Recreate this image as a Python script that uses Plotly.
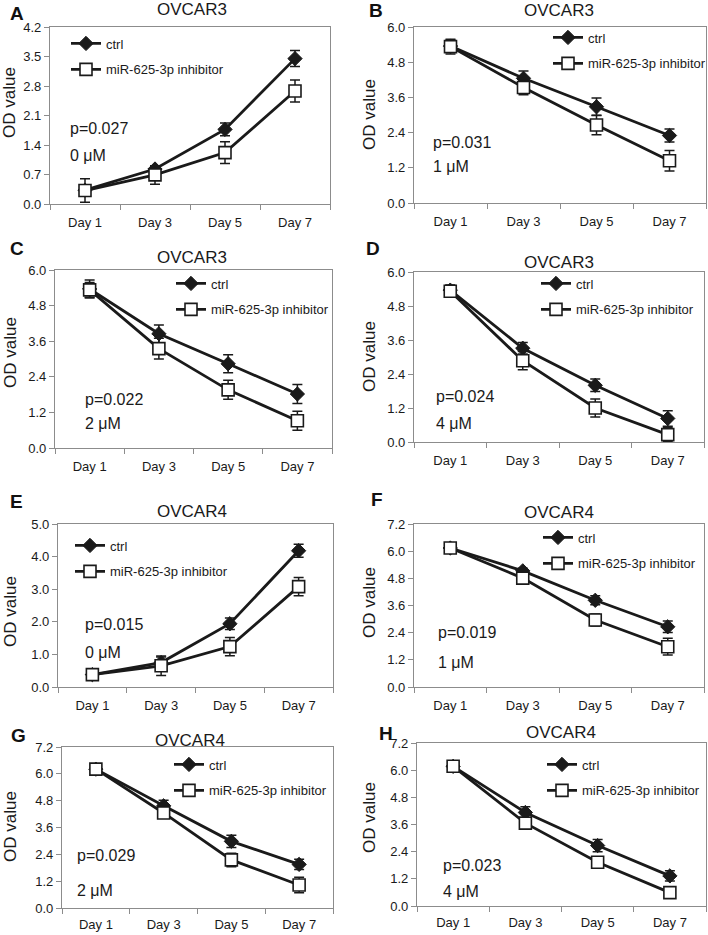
import plotly.graph_objects as go

W, H = 708, 935

# ---------------- data ----------------
days = ["Day 1", "Day 3", "Day 5", "Day 7"]
panel_letters = ["A", "B", "C", "D", "E", "F", "G", "H"]
cell_lines = ["OVCAR3", "OVCAR3", "OVCAR3", "OVCAR3", "OVCAR4", "OVCAR4", "OVCAR4", "OVCAR4"]
p_values = ["p=0.027", "p=0.031", "p=0.022", "p=0.024", "p=0.015", "p=0.019", "p=0.029", "p=0.023"]
doses = ["0 μM", "1 μM", "2 μM", "4 μM", "0 μM", "1 μM", "2 μM", "4 μM"]
y_max = [4.2, 6.0, 6.0, 6.0, 5.0, 7.2, 7.2, 7.2]
y_step = [0.7, 1.2, 1.2, 1.2, 1.0, 1.2, 1.2, 1.2]

ctrl_A = [0.33, 0.83, 1.77, 3.45]
ctrl_err_A = [0.08, 0.06, 0.15, 0.19]
inh_A = [0.32, 0.69, 1.22, 2.68]
inh_err_A = [0.28, 0.22, 0.26, 0.26]

ctrl_B = [5.35, 4.25, 3.28, 2.30]
ctrl_err_B = [0.20, 0.25, 0.30, 0.22]
inh_B = [5.33, 3.94, 2.66, 1.44]
inh_err_B = [0.25, 0.25, 0.33, 0.35]

ctrl_C = [5.36, 3.85, 2.84, 1.82]
ctrl_err_C = [0.30, 0.30, 0.30, 0.32]
inh_C = [5.33, 3.35, 1.96, 0.92]
inh_err_C = [0.25, 0.35, 0.32, 0.32]

ctrl_D = [5.36, 3.31, 2.00, 0.83]
ctrl_err_D = [0.18, 0.20, 0.22, 0.27]
inh_D = [5.32, 2.87, 1.20, 0.26]
inh_err_D = [0.20, 0.32, 0.32, 0.25]

ctrl_E = [0.38, 0.75, 1.94, 4.18]
ctrl_err_E = [0.10, 0.17, 0.18, 0.20]
inh_E = [0.38, 0.65, 1.24, 3.08]
inh_err_E = [0.17, 0.30, 0.28, 0.28]

ctrl_F = [6.14, 5.13, 3.83, 2.66]
ctrl_err_F = [0.10, 0.12, 0.20, 0.25]
inh_F = [6.14, 4.81, 2.96, 1.78]
inh_err_F = [0.10, 0.15, 0.27, 0.37]

ctrl_G = [6.21, 4.57, 2.98, 1.95]
ctrl_err_G = [0.15, 0.25, 0.27, 0.23]
inh_G = [6.21, 4.25, 2.15, 1.03]
inh_err_G = [0.22, 0.20, 0.30, 0.35]

ctrl_H = [6.17, 4.13, 2.67, 1.33]
ctrl_err_H = [0.10, 0.25, 0.27, 0.23]
inh_H = [6.17, 3.66, 1.93, 0.59]
inh_err_H = [0.10, 0.15, 0.20, 0.20]

ctrl_all = [ctrl_A, ctrl_B, ctrl_C, ctrl_D, ctrl_E, ctrl_F, ctrl_G, ctrl_H]
ctrl_err_all = [ctrl_err_A, ctrl_err_B, ctrl_err_C, ctrl_err_D, ctrl_err_E, ctrl_err_F, ctrl_err_G, ctrl_err_H]
inh_all = [inh_A, inh_B, inh_C, inh_D, inh_E, inh_F, inh_G, inh_H]
inh_err_all = [inh_err_A, inh_err_B, inh_err_C, inh_err_D, inh_err_E, inh_err_F, inh_err_G, inh_err_H]

# ---------------- layout geometry (pixels) ----------------
# plot box: left, right, top, bottom
boxes = [
    (50, 330, 27, 204), (414, 706, 27, 203),
    (55, 332, 270, 448), (414, 704, 272, 442),
    (58, 333, 524, 687), (414, 704, 524, 687),
    (62, 333, 747, 908), (417, 706, 743, 906),
]
letter_pos = [(8, 13), (367, 11), (8, 248), (364, 248), (8, 501), (369, 499), (9, 735), (377, 733)]
title_pos = [(192, 9), (559, 10), (192, 257), (559, 262), (192, 511), (559, 512), (190, 740), (561, 732)]
ytitle_pos = [(10, 103), (369, 115), (10, 353), (369, 357), (10, 612), (369, 603), (10, 827), (369, 818)]
ptext_pos = [(68, 128, 155), (431, 142, 167), (83, 399, 423), (434, 397, 423),
             (83, 624, 652), (436, 632, 662), (75, 855, 890), (441, 865, 891)]
legend_pos = [(72, 43), (554, 37), (177, 283), (542, 283), (76, 545), (544, 537), (175, 764), (548, 764)]

LINE = "#1a1a1a"
AXC = "#8c8c8c"
TICKFONT = dict(family="Liberation Sans, Arial", size=13, color="#1a1a1a")
ARIAL = "Liberation Sans, Arial"


def fx(x):
    return x / W


def fy(y):
    return 1 - y / H


fig = go.Figure()
annotations = []
layout = {}

for i in range(8):
    n = "" if i == 0 else str(i + 1)
    xa, ya = "x" + n, "y" + n
    leg = "legend" + n
    L, R, T, B = boxes[i]
    fig.add_trace(go.Scatter(
        x=days, y=ctrl_all[i], name="ctrl", xaxis=xa, yaxis=ya, legend=leg,
        legendgroup="c%d" % i, mode="lines+markers",
        line=dict(color=LINE, width=2.8),
        marker=dict(symbol="diamond", size=11, color=LINE, line=dict(color=LINE, width=1)),
        error_y=dict(type="data", array=ctrl_err_all[i], color=LINE, thickness=1.5, width=5),
    ))
    fig.add_trace(go.Scatter(
        x=days, y=inh_all[i], name="miR-625-3p inhibitor", xaxis=xa, yaxis=ya, legend=leg,
        legendgroup="i%d" % i, mode="lines+markers",
        line=dict(color=LINE, width=2.8),
        marker=dict(symbol="square", size=12, color="white", line=dict(color=LINE, width=1.6)),
        error_y=dict(type="data", array=inh_err_all[i], color=LINE, thickness=1.5, width=5),
    ))
    ntick = round(y_max[i] / y_step[i])
    tv = [round(k * y_step[i], 2) for k in range(ntick + 1)]
    layout["xaxis" + n] = dict(
        domain=[fx(L), fx(R)], anchor=ya, type="category", tickson="boundaries",
        ticks="outside", ticklen=5, tickcolor=AXC, showline=True, linecolor=AXC,
        linewidth=1.2, mirror=True, showgrid=False, zeroline=False, tickfont=TICKFONT,
        range=[-0.5, 3.5], fixedrange=True, automargin=False,
        ticklabelstandoff=4 if i >= 6 else 6,
    )
    layout["yaxis" + n] = dict(
        domain=[fy(B), fy(T)], anchor=xa, range=[0, y_max[i]], tickvals=tv,
        tickformat=".1f", ticks="outside", ticklen=5, tickcolor=AXC, showline=True,
        linecolor=AXC, linewidth=1.2, mirror=True, showgrid=False, zeroline=False,
        tickfont=TICKFONT, fixedrange=True, automargin=False,
    )
    lx, ly = legend_pos[i]
    layout[leg] = dict(
        x=fx(lx - 6), y=fy(ly - 14.5), xanchor="left", yanchor="top",
        bgcolor="rgba(0,0,0,0)", borderwidth=0, tracegroupgap=6,
        font=dict(family=ARIAL, size=13, color="#1a1a1a"), traceorder="grouped",
    )
    # panel letter
    annotations.append(dict(text="<b>%s</b>" % panel_letters[i], x=fx(letter_pos[i][0]), y=fy(letter_pos[i][1]),
                            xref="paper", yref="paper", xanchor="left", yanchor="middle", showarrow=False,
                            font=dict(family=ARIAL, size=19, color="#111")))
    annotations.append(dict(text=cell_lines[i], x=fx(title_pos[i][0]), y=fy(title_pos[i][1]),
                            xref="paper", yref="paper", xanchor="center", yanchor="middle", showarrow=False,
                            font=dict(family=ARIAL, size=17, color="#1a1a1a")))
    annotations.append(dict(text="OD value", x=fx(ytitle_pos[i][0]), y=fy(ytitle_pos[i][1]), textangle=-90,
                            xref="paper", yref="paper", xanchor="center", yanchor="middle", showarrow=False,
                            font=dict(family=ARIAL, size=17, color="#1a1a1a")))
    px_, p1, p2 = ptext_pos[i]
    annotations.append(dict(text=p_values[i], x=fx(px_), y=fy(p1), xref="paper", yref="paper",
                            xanchor="left", yanchor="middle", showarrow=False,
                            font=dict(family=ARIAL, size=16, color="#1a1a1a")))
    annotations.append(dict(text=doses[i], x=fx(px_), y=fy(p2), xref="paper", yref="paper",
                            xanchor="left", yanchor="middle", showarrow=False,
                            font=dict(family=ARIAL, size=16, color="#1a1a1a")))

fig.update_layout(
    template="none",
    width=W, height=H, margin=dict(l=0, r=0, t=0, b=0, autoexpand=False),
    paper_bgcolor="white", plot_bgcolor="white", showlegend=True,
    annotations=annotations, **layout,
)
fig.write_html(
    "out.html",
    config={"displayModeBar": False},
    post_script="document.body.style.margin='0';document.body.style.overflow='hidden';",
)
